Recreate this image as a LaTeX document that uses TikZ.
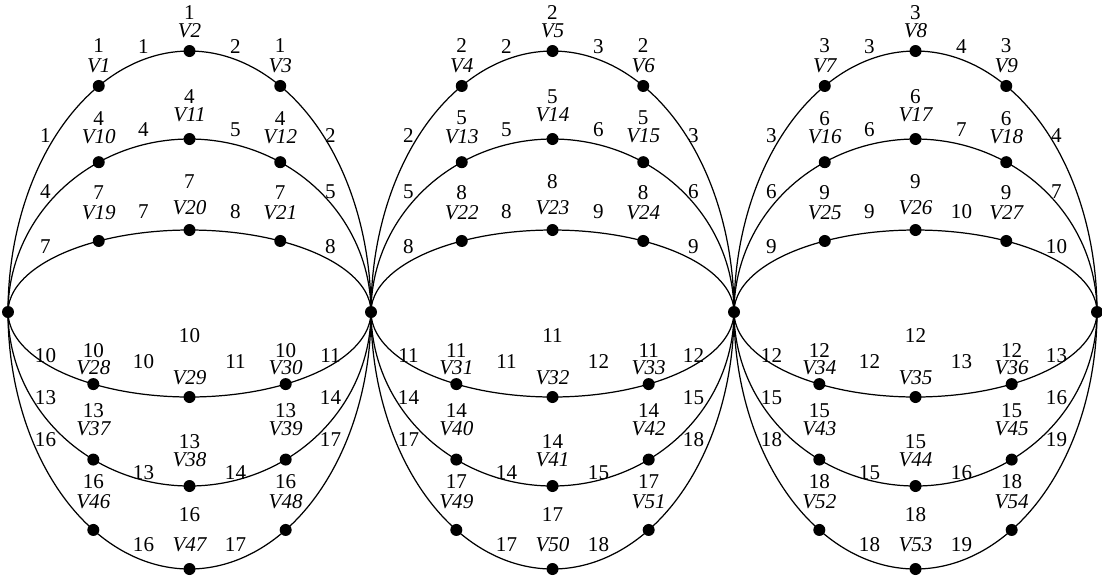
\documentclass[tikz,border=0pt]{standalone}
\usepackage{fontspec}
\setmainfont{Liberation Serif}
\definecolor{GraphInk}{RGB}{0,0,0}
\tikzset{
  vertex/.style={circle,fill=GraphInk,inner sep=0pt,minimum size=0.24cm},
  edgearc/.style={line width=0.7pt,draw=GraphInk},
  wlabel/.style={font=\fontsize{12}{14}\selectfont,inner sep=0pt,text=GraphInk},
  vlabel/.style={font=\fontsize{12}{14}\selectfont\itshape,inner sep=0pt,text=GraphInk}
}
\begin{document}
\begin{tikzpicture}[x=0.02cm,y=-0.02cm]
  \useasboundingbox (0,0) rectangle (1102,582);
  % shared end points of the three blocks
  \foreach \e/\ex in {0/8,1/371,2/734,3/1097}
    \node[vertex] (e\e) at (\ex,312) {};
  % row: y radius, angles of the three vertices and the end, label offsets, label heights
  \foreach \r/\b/\ta/\tm/\tb/\te/\dvo/\dno/\dvm/\dnm/\yo/\ym in {
      1/261/240/270/300/360/20/40/20/38/136/47,
      2/173/240/270/300/360/26/44/24/42/192/130,
      3/82/240/270/300/360/28/48/22/48/247/212,
      4/85/122/90/58/0/16/34/19/61/356/362,
      5/174/122/90/58/0/31/49/26/44/398/473,
      6/257/122/90/58/0/28/48/24/54/440/545}{
    \foreach \g in {1,2,3}{
      \pgfmathsetmacro{\cx}{189.5+363*(\g-1)}
      \pgfmathtruncatemacro{\gl}{\g-1}
      \pgfmathtruncatemacro{\w}{3*(\r-1)+\g}
      \pgfmathtruncatemacro{\wn}{\w+1}
      \pgfmathtruncatemacro{\ia}{9*(\r-1)+3*(\g-1)+1}
      \pgfmathtruncatemacro{\im}{\ia+1}
      \pgfmathtruncatemacro{\ib}{\ia+2}
      \pgfmathsetmacro{\xa}{\cx+181.5*cos(\ta)}
      \pgfmathsetmacro{\ya}{312+\b*sin(\ta)}
      \pgfmathsetmacro{\xm}{\cx+181.5*cos(\tm)}
      \pgfmathsetmacro{\ymid}{312+\b*sin(\tm)}
      \pgfmathsetmacro{\xb}{\cx+181.5*cos(\tb)}
      \pgfmathsetmacro{\yb}{312+\b*sin(\tb)}
      \node[vertex] (v\ia) at (\xa,\ya) {};
      \node[vertex] (v\im) at (\xm,\ymid) {};
      \node[vertex] (v\ib) at (\xb,\yb) {};
      % vertex names and weights
      \node[vlabel] (n\ia) at (\xa,\ya-\dvo) {V\ia};
      \node[wlabel] (w\ia) at (\xa,\ya-\dno) {\w};
      \node[vlabel] (n\im) at (\xm,\ymid-\dvm) {V\im};
      \node[wlabel] (w\im) at (\xm,\ymid-\dnm) {\w};
      \node[vlabel] (n\ib) at (\xb,\yb-\dvo) {V\ib};
      \node[wlabel] (w\ib) at (\xb,\yb-\dno) {\w};
      % arcs
      \draw[edgearc] (e\gl.center) arc[start angle=180,end angle=\ta,x radius=181.5,y radius=\b];
      \draw[edgearc] (v\ia.center) arc[start angle=\ta,end angle=\tm,x radius=181.5,y radius=\b];
      \draw[edgearc] (v\im.center) arc[start angle=\tm,end angle=\tb,x radius=181.5,y radius=\b];
      \draw[edgearc] (v\ib.center) arc[start angle=\tb,end angle=\te,x radius=181.5,y radius=\b];
      % arc weights
      \node[wlabel] (sa\ia) at (\cx-144,\yo) {\w};
      \node[wlabel] (sb\ia) at (\cx-46,\ym) {\w};
      \node[wlabel] (sc\ia) at (\cx+46,\ym) {\wn};
      \node[wlabel] (sd\ia) at (\cx+141,\yo) {\wn};
    }
  }
\end{tikzpicture}
\end{document}
